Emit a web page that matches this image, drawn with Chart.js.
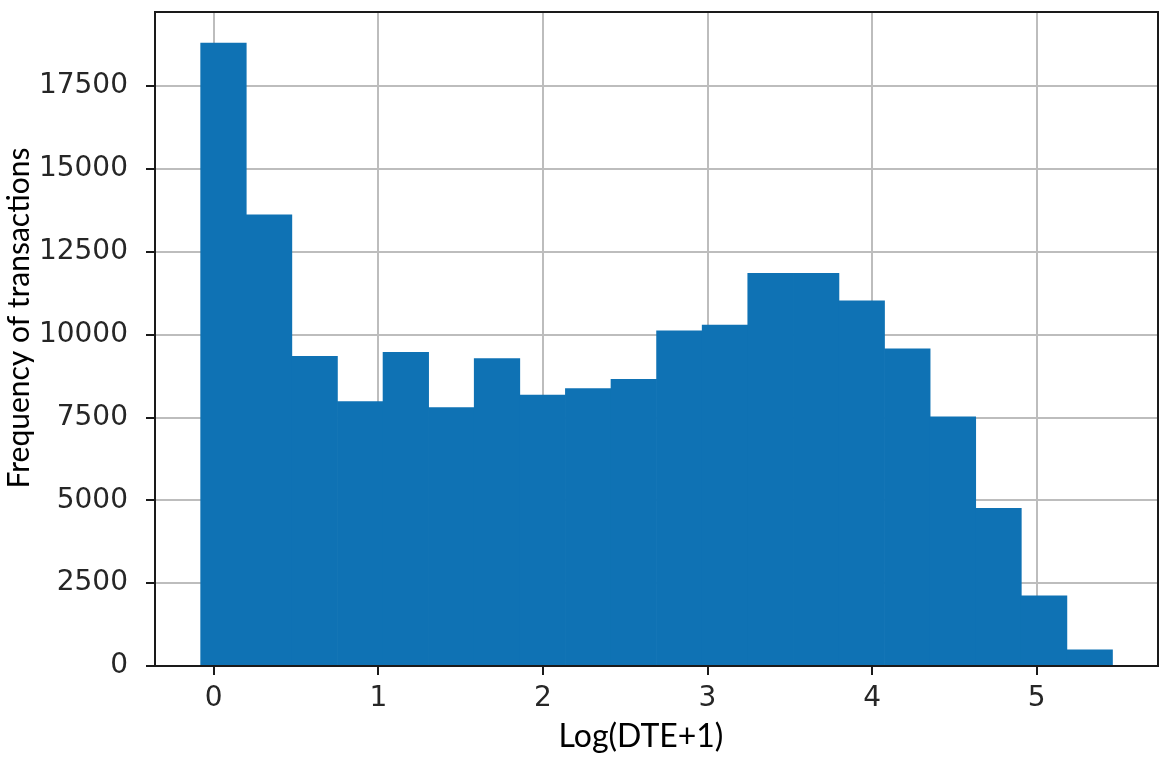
<!DOCTYPE html>
<html>
<head>
<meta charset="utf-8">
<script src="https://cdn.jsdelivr.net/npm/chart.js@4"></script>
<style>
  body { margin: 0; background: #fff; }
  #wrap { width: 1169px; height: 760px; }
</style>
</head>
<body>
<div id="wrap"><canvas id="histChart" width="1169" height="760"></canvas></div>
<script>
// histogram bins (centre of each bin) and counts
const binCenters = [0.059, 0.336, 0.613, 0.890, 1.167, 1.444, 1.721, 1.998, 2.275, 2.552,
                    2.829, 3.106, 3.383, 3.660, 3.937, 4.214, 4.491, 4.768, 5.045, 5.322];
const counts = [18800, 13620, 9350, 7980, 9470, 7800, 9280, 8180, 8370, 8650,
                10120, 10290, 11850, 11850, 11020, 9570, 7520, 4760, 2120, 490];

const xTicks = [0, 1, 2, 3, 4, 5];
const yTicks = [0, 2500, 5000, 7500, 10000, 12500, 15000, 17500];

const xTitle = 'Log(DTE+1)';
const yTitle = 'Frequency of transactions';

let points = [];
for (let i = 0; i < binCenters.length; i++) {
    points.push({x: binCenters[i], y: counts[i]});
}

// box around the plot + the two axis titles
const frameAndTitles = {
    id: 'frameAndTitles',
    afterDraw(chart) {
        const ctx = chart.ctx;
        const a = chart.chartArea;
        ctx.save();
        ctx.strokeStyle = '#1a1a1a';
        ctx.lineWidth = 2;
        ctx.strokeRect(a.left, a.top, a.right - a.left, a.bottom - a.top);

        ctx.fillStyle = '#000';
        ctx.textAlign = 'center';
        ctx.textBaseline = 'alphabetic';
        ctx.font = '32px Lato';
        ctx.fillText(xTitle, 641, 747);

        ctx.font = '30px Lato';
        ctx.translate(29, 318);
        ctx.rotate(-Math.PI / 2);
        ctx.fillText(yTitle, 0, 0);
        ctx.restore();
    }
};

const tickFont = {family: 'DejaVu Sans', size: 28};

let config = {
    type: 'bar',
    data: {
        datasets: [{
            label: 'transactions',
            data: points,
            backgroundColor: '#0f72b4',
            borderWidth: 0,
            barPercentage: 1,
            categoryPercentage: 1
        }]
    },
    options: {
        responsive: false,
        animation: false,
        layout: {padding: {top: 12, right: 11, left: 0, bottom: 0}},
        plugins: {
            legend: {display: false},
            tooltip: {enabled: false}
        },
        scales: {
            x: {
                type: 'linear',
                min: -0.357,
                max: 5.737,
                offset: false,
                z: 1,
                afterBuildTicks: (s) => { s.ticks = xTicks.map(v => ({value: v})); },
                afterFit: (s) => { s.height = 94; s.paddingLeft = 0; s.paddingRight = 0; },
                grid: {offset: false, color: '#bdbdbd', lineWidth: 2, tickColor: '#1a1a1a', tickWidth: 2, tickLength: 9},
                border: {color: '#1a1a1a', width: 2},
                ticks: {font: tickFont, color: '#262626', padding: 7, maxRotation: 0,
                        callback: (v) => String(v)}
            },
            y: {
                min: 0,
                max: 19740,
                z: 1,
                afterBuildTicks: (s) => { s.ticks = yTicks.map(v => ({value: v})); },
                afterFit: (s) => { s.width = 155; s.paddingTop = 0; s.paddingBottom = 0; },
                grid: {color: '#bdbdbd', lineWidth: 2, tickColor: '#1a1a1a', tickWidth: 2, tickLength: 9},
                border: {color: '#1a1a1a', width: 2},
                ticks: {font: tickFont, color: '#262626', padding: 18,
                        callback: (v) => String(v)}
            }
        }
    },
    plugins: [frameAndTitles]
};

new Chart(document.getElementById('histChart'), config);
</script>
</body>
</html>
